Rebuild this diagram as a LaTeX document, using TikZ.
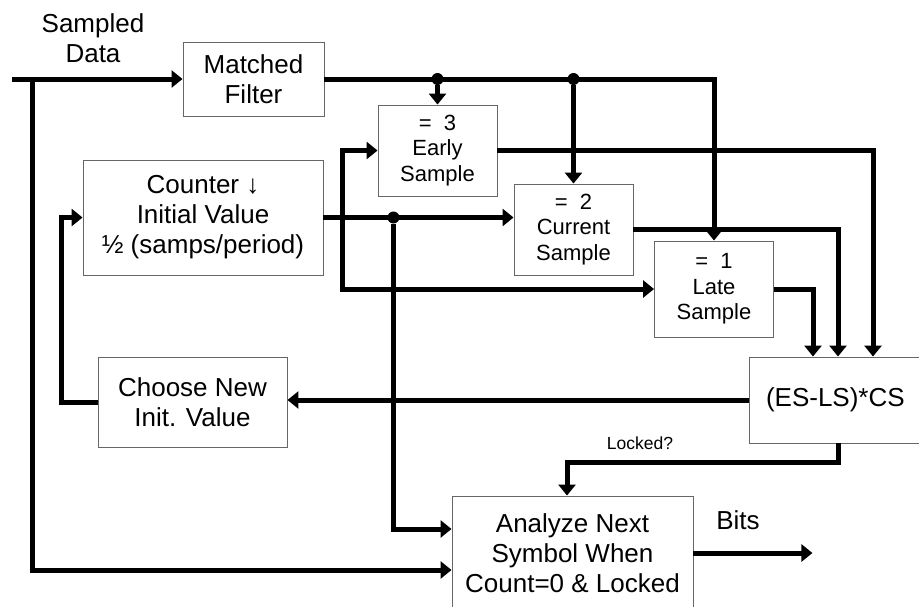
\documentclass[tikz,border=0pt]{standalone}
\usepackage{fontspec}
\setmainfont{Liberation Sans}
\usetikzlibrary{arrows.meta}
\begin{document}
\begin{tikzpicture}[x=1pt,y=-1pt,
  box/.style={draw=black!60, line width=0.9pt, fill=white, inner sep=0pt, align=center,
    font=\fontsize{26}{30}\selectfont},
  sbox/.style={box, font=\fontsize{22}{25.5}\selectfont},
  wire/.style={line width=5pt},
  arr/.style={wire, -{Triangle[length=11pt,width=17pt]}},
  dot/.style={circle, fill=black, inner sep=0pt, minimum size=12pt},
  lbl/.style={inner sep=0pt, align=center, font=\fontsize{26}{30}\selectfont}]
\useasboundingbox (0,0) rectangle (919,606);
\clip (0,0) rectangle (919,606);
\fill[white] (0,0) rectangle (919,606);

% boxes
\node[box, minimum width=141pt, minimum height=74pt] (mf) at (253.5,79) {Matched\\Filter};
\node[sbox, minimum width=119pt, minimum height=91pt] (es) at (437.5,150.5) {=\ \ 3\\Early\\Sample};
\node[box, minimum width=240pt, minimum height=115pt] (cnt) at (203,217.5) {Counter \char"2193\\Initial Value\\\char"BD\ (samps/period)};
\node[sbox, minimum width=119pt, minimum height=91pt] (cs) at (573.5,229.5) {=\ \ 2\\Current\\Sample};
\node[sbox, minimum width=119pt, minimum height=96pt] (ls) at (714,289) {=\ \ 1\\Late\\Sample};
\node[box, minimum width=180pt, minimum height=86pt, text width=170pt, align=left] (esls) at (839,400) {\hspace*{12pt}(ES-LS)*CS};
\node[box, minimum width=189pt, minimum height=90pt] (cnv) at (192.5,402) {Choose New\\Init. Value};
\node[box, minimum width=241pt, minimum height=114pt] (an) at (572.5,553) {Analyze Next\\Symbol When\\Count=0 \& Locked};

% labels
\node[lbl] (sdl) at (93,38) {Sampled\\Data};
\node[lbl] (bits) at (738,520) {Bits};
\node[inner sep=0pt, font=\fontsize{17.5}{20}\selectfont] (lk) at (640,443) {Locked?};

% input
\coordinate (sd) at (12,79);
\coordinate (sdj) at (32,79);
\draw[arr] (sd) -- (mf.west);
\draw[arr] (sdj) |- ([yshift=-17pt]an.west);

% matched filter output
\draw[arr] (mf.east) -| (ls.north);
\node[dot] (j1) at (mf.east -| es.north) {};
\node[dot] (j2) at (mf.east -| cs.north) {};
\draw[arr] (j1) -- (es.north);
\draw[arr] (j2) -- (cs.north);

% sample outputs to error box
\draw[arr] (es.east) -| ([xshift=34pt]esls.north);
\draw[arr] (cs.east) -| ([xshift=-1pt]esls.north);
\draw[arr] (ls.east) -| ([xshift=-26pt]esls.north);

% counter output
\draw[arr] (cnt.east) -- (cnt.east -| cs.west);
\node[dot] (j3) at ([xshift=70pt]cnt.east) {};
\draw[arr] (j3) |- ([yshift=24pt]an.west);
\coordinate (lp) at ([xshift=19pt]cnt.east);
\draw[arr] (lp) |- (es.west);
\draw[arr] (lp) |- (ls.west);

% feedback
\draw[arr] (esls.west) -- (esls.west -| cnv.east);
\draw[arr] (cnv.west) -- ++(-36,0) |- (cnt.west);

% locked
\draw[arr] ([xshift=-1pt]esls.south) -- ++(0,19) -| ([xshift=-5.5pt]an.north);

% bits
\draw[arr] (an.east) -- ++(119,0) coordinate (bo);
\end{tikzpicture}
\end{document}
